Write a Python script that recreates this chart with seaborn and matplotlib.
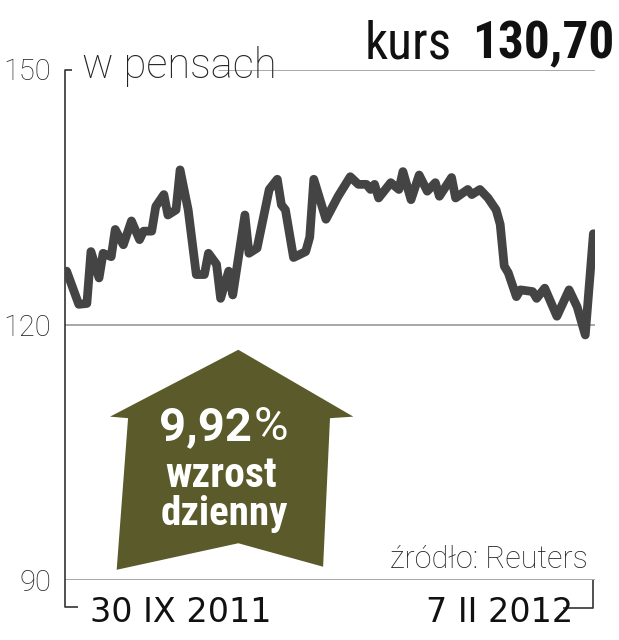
import matplotlib
matplotlib.use("Agg")
import matplotlib.pyplot as plt
from matplotlib.patches import Polygon
import pandas as pd
import seaborn as sns

# kurs w pensach, 30 IX 2011 - 7 II 2012 (dni od poczatku okresu)
days = [0, 3, 5, 6, 8, 9, 11, 12, 14, 16, 18, 19, 21, 22, 24, 25, 27, 28, 30, 32,
        34, 35, 37, 38, 40, 41, 44, 45, 47, 50, 52, 53, 54, 56, 59, 60, 61, 64, 67, 70,
        72, 74, 75, 76, 77, 80, 82, 83, 85, 87, 89, 91, 92, 95, 96, 99, 100, 102, 104, 106,
        107, 108, 109, 111, 112, 115, 116, 118, 121, 124, 126, 128, 130]
price = [126.3, 122.4, 122.5, 128.6, 125.5, 128.4, 128.0, 131.2, 129.4, 132.2,
         130.0, 131.0, 131.0, 133.9, 135.3, 132.9, 133.5, 138.2, 133.5, 125.9,
         125.9, 128.4, 127.1, 123.1, 126.3, 123.5, 132.9, 128.4, 129.0, 135.9,
         137.1, 134.1, 133.5, 127.9, 128.6, 130.3, 137.1, 132.4, 135.1, 137.4,
         136.5, 136.5, 135.9, 136.5, 134.9, 136.7, 135.9, 138.0, 134.7, 137.6,
         135.7, 136.7, 135.1, 137.3, 134.9, 135.9, 135.3, 135.9, 134.9, 133.5,
         131.8, 126.9, 126.1, 123.3, 124.1, 123.9, 123.1, 124.3, 121.0, 124.1,
         122.1, 118.8, 130.7]
yticks = [90, 120, 150]
date_labels = ["30 IX 2011", "7 II 2012"]
last_price = "130,70"
daily_change = "9,92"

df = pd.DataFrame({"day": days, "price": price})

sns.set_style("white")
plt.rcParams["font.family"] = ["Roboto Condensed", "DejaVu Sans"]
wide = ["Roboto", "DejaVu Sans"]

fig = plt.figure(figsize=(6.19, 6.4), dpi=100)
ax = fig.add_axes([65 / 619, 60 / 640, 530 / 619, 510.5 / 640])

grid = "#8f8f8f"
dark = "#333333"
olive = "#5a5a2a"

# arrow in the background
arrow = Polygon([(0.327, 0.451), (0.544, 0.320), (0.500, 0.317), (0.487, 0.026),
                 (0.327, 0.072), (0.0975, 0.020), (0.119, 0.317), (0.085, 0.320)],
                closed=True, transform=ax.transAxes, facecolor=olive, edgecolor="none", zorder=1)
ax.add_patch(arrow)

ax.axhline(120, color=grid, lw=1.1, zorder=2)
ax.axhline(90, color=grid, lw=1.1, zorder=2)
ax.axhline(150, xmin=0.29, color=grid, lw=1.1, zorder=2)

sns.lineplot(data=df, x="day", y="price", ax=ax, color="#444444", linewidth=6.3,
             solid_capstyle="round", solid_joinstyle="round", zorder=3)

ax.set_xlim(-0.4, 130.4)
ax.set_ylim(90, 150)
for s in ax.spines.values():
    s.set_visible(False)
ax.set_xticks([])
ax.set_yticks(yticks)
ax.set_yticklabels([str(v) for v in yticks], fontsize=21, fontweight="light",
                   family=wide, color="#222222")
ax.tick_params(axis="y", length=0, pad=10)
ax.set_xlabel("")
ax.set_ylabel("")

# brackets of the axis
ax.plot([0.013, 0.0, 0.0, 0.024], [1.0, 1.0, -0.053, -0.053], transform=ax.transAxes,
        color=dark, lw=1.2, clip_on=False, solid_capstyle="butt")
ax.plot([0.94, 0.996, 0.996], [-0.055, -0.055, 0.0], transform=ax.transAxes,
        color=dark, lw=1.2, clip_on=False, solid_capstyle="butt")

ax.text(0.047, -0.0823, date_labels[0], transform=ax.transAxes, ha="left", va="baseline",
        fontsize=24, family=["DejaVu Sans"], color="#111111")
ax.text(0.9585, -0.0823, date_labels[1], transform=ax.transAxes, ha="right", va="baseline",
        fontsize=24, family=["DejaVu Sans"], color="#111111")
ax.text(0.9868, 0.0235, "źródło: Reuters", transform=ax.transAxes, ha="right", va="baseline",
        fontsize=22, fontweight="light", family=wide, color="#222222")

# arrow texts
ax.text(0.3528, 0.2742, daily_change, transform=ax.transAxes, ha="right", va="baseline",
        fontsize=34, fontweight="bold", family=wide, color="white", zorder=4)
ax.text(0.3566, 0.2742, "%", transform=ax.transAxes, ha="left", va="baseline",
        fontsize=34, family=wide, color="white", zorder=4)
ax.text(0.2943, 0.1828, "wzrost", transform=ax.transAxes, ha="center", va="baseline",
        fontsize=30, fontweight="bold", color="white", zorder=4)
ax.text(0.300, 0.1077, "dzienny", transform=ax.transAxes, ha="center", va="baseline",
        fontsize=29.5, fontweight="bold", color="white", zorder=4)

# header
fig.text(82 / 619, (640 - 78.3) / 640, "w pensach", ha="left", va="baseline",
         fontsize=30, fontweight="light", family=wide, color="#222222")
fig.text(365 / 619, (640 - 58.3) / 640, "kurs", ha="left", va="baseline",
         fontsize=37, color="#111111")
fig.text(614 / 619, (640 - 58.3) / 640, last_price, ha="right", va="baseline",
         fontsize=37, fontweight="bold", color="#111111")

fig.savefig("out.png", dpi=100)
